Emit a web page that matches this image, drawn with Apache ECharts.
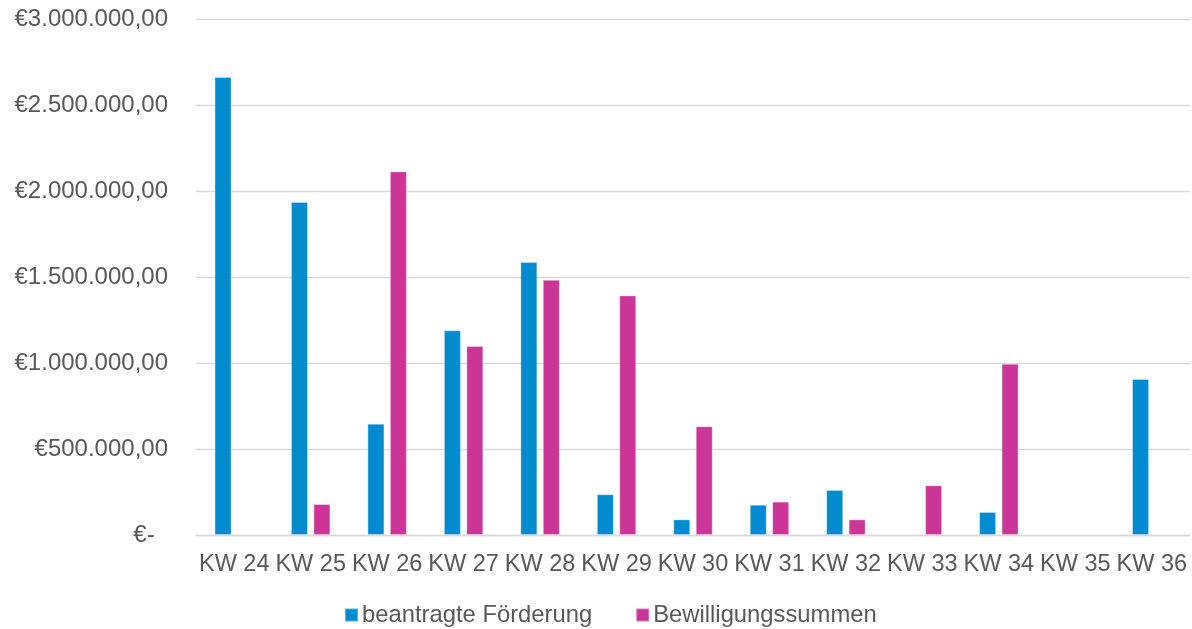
<!DOCTYPE html>
<html>
<head>
<meta charset="utf-8">
<script src="https://cdn.jsdelivr.net/npm/echarts@6/dist/echarts.min.js"></script>
<style>
html,body{margin:0;padding:0;background:#fff;}
#chart{width:1192px;height:629px;}
</style>
</head>
<body>
<div id="chart"></div>
<script>
var categories = ['KW 24','KW 25','KW 26','KW 27','KW 28','KW 29','KW 30','KW 31','KW 32','KW 33','KW 34','KW 35','KW 36'];
var beantragt = [2663000, 1936000, 647000, 1190000, 1587000, 237000, 91000, 176000, 262000, null, 134000, null, 907000];
var bewilligt = [null, 180000, 2114000, 1099000, 1484000, 1393000, 632000, 194000, 91000, 289000, 996000, null, null];
var seriesNames = ['beantragte Förderung', 'Bewilligungssummen'];

function fmtEuro(v) {
  if (v === 0) return '€-  ';
  var s = Math.round(v).toString();
  var out = '';
  while (s.length > 3) { out = '.' + s.slice(-3) + out; s = s.slice(0, -3); }
  return '€' + s + out + ',00';
}

var textColor = '#595959';
var font = 'Liberation Sans, Arial, sans-serif';

var chart = echarts.init(document.getElementById('chart'), null, {renderer: 'canvas'});
chart.setOption({
  animation: false,
  backgroundColor: '#ffffff',
  grid: {left: 196, right: 2, top: 19, bottom: 94, containLabel: false},
  legend: {
    data: seriesNames,
    left: 339,
    top: 598,
    icon: 'rect',
    itemWidth: 13,
    itemHeight: 13,
    itemGap: 43,
    textStyle: {color: textColor, fontSize: 23.8, fontFamily: font, padding: [0, 0, 0, -1]}
  },
  xAxis: {
    type: 'category',
    data: categories,
    axisLine: {show: true, lineStyle: {color: '#d9d9d9', width: 1.3}},
    axisTick: {show: false},
    axisLabel: {color: textColor, fontSize: 23.5, fontFamily: font, margin: 18, interval: 0}
  },
  yAxis: {
    type: 'value',
    min: 0,
    max: 3000000,
    interval: 500000,
    axisLine: {show: false},
    axisTick: {show: false},
    splitLine: {lineStyle: {color: '#d9d9d9', width: 1.3}},
    axisLabel: {color: textColor, fontSize: 24, fontFamily: font, margin: 28, formatter: fmtEuro}
  },
  series: [
    {
      name: seriesNames[0],
      type: 'bar',
      data: beantragt,
      barWidth: 17,
      barGap: '32%',
      itemStyle: {color: '#028BCF', borderColor: 'rgba(255,255,255,0.35)', borderWidth: 1}
    },
    {
      name: seriesNames[1],
      type: 'bar',
      data: bewilligt,
      barWidth: 17,
      barGap: '32%',
      itemStyle: {color: '#CB3597', borderColor: 'rgba(255,255,255,0.35)', borderWidth: 1}
    }
  ]
});
</script>
</body>
</html>
